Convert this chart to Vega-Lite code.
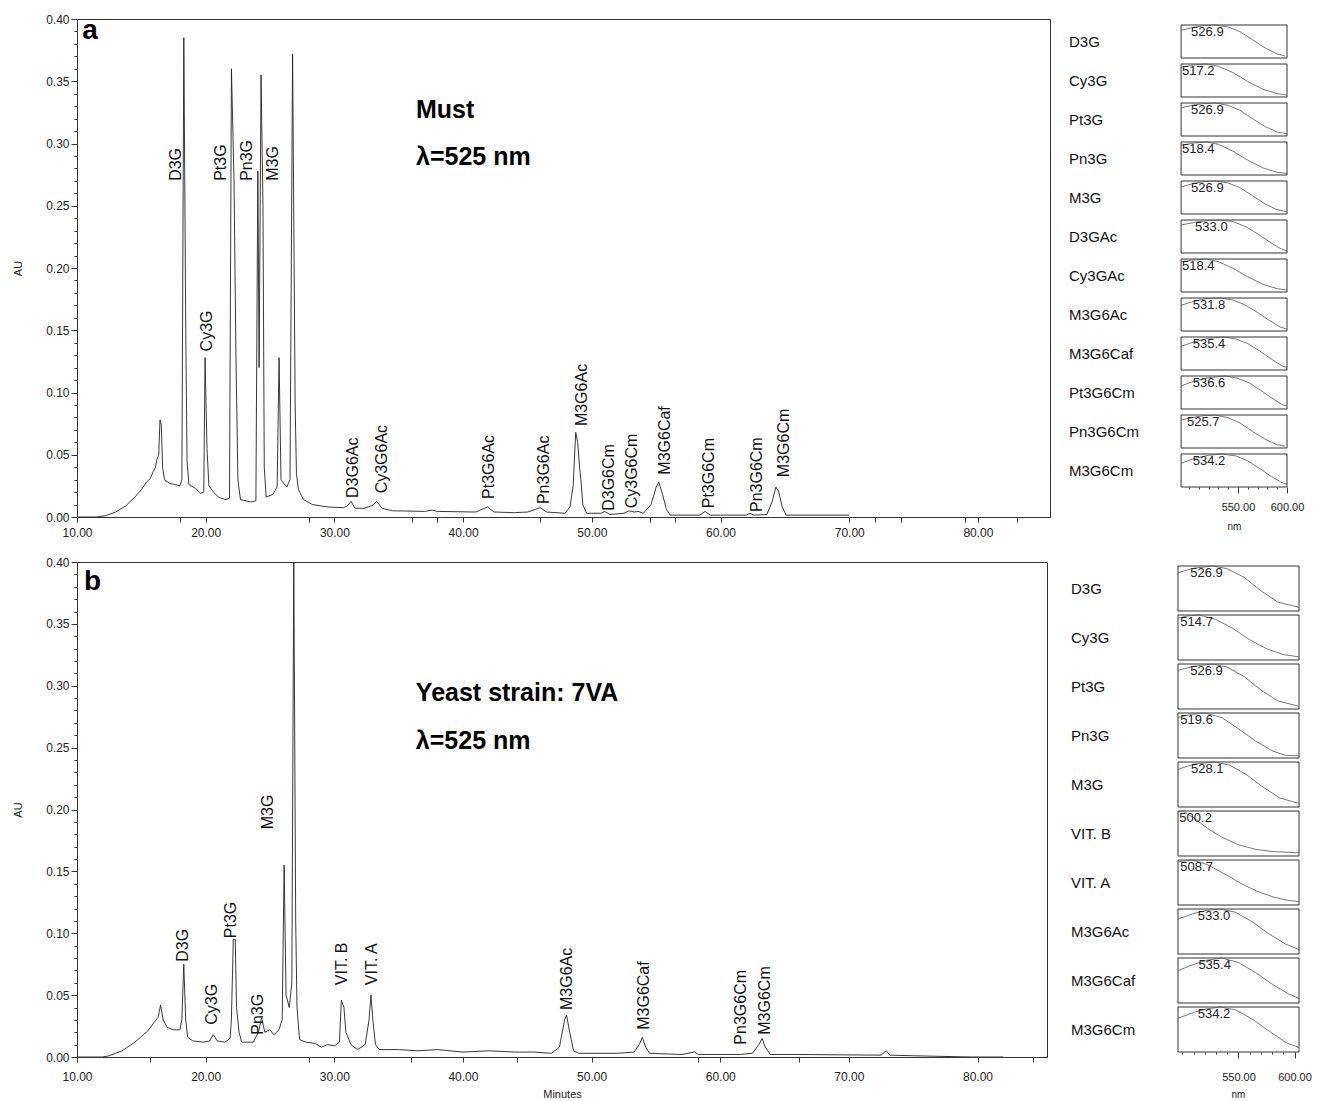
{
  "$schema": "https://vega.github.io/schema/vega-lite/v6.json",
  "padding": {"left": 12, "top": 12, "right": 0, "bottom": 0},
  "background": "white",
  "config": {
    "font": "Liberation Sans",
    "view": {"stroke": "#333", "strokeWidth": 1},
    "axis": {"labelFont": "Liberation Sans", "labelFontSize": 12, "labelColor": "#222", "tickColor": "#333", "domainColor": "#333", "grid": false, "titleFont": "Liberation Sans", "titleFontWeight": "normal", "titleFontSize": 11, "titleColor": "#222", "labelFlush": false, "labelOverlap": false},
    "text": {"font": "Liberation Sans", "color": "#111"}
  },
  "datasets": {
    "ca": [
      {"t":10.0,"au":0},{"t":11.5,"au":0},{"t":12.2,"au":0.001},{"t":13.0,"au":0.004},{"t":13.8,"au":0.009},{"t":14.5,"au":0.016},{"t":15.0,"au":0.022},{"t":15.4,"au":0.028},{"t":15.7,"au":0.031},{"t":15.9,"au":0.036},{"t":16.1,"au":0.04},{"t":16.2,"au":0.046},{"t":16.35,"au":0.05},{"t":16.45,"au":0.078},{"t":16.55,"au":0.074},{"t":16.65,"au":0.04},{"t":16.8,"au":0.03},{"t":17.2,"au":0.027},{"t":17.6,"au":0.026},{"t":18.0,"au":0.025},{"t":18.15,"au":0.03},{"t":18.3,"au":0.385},{"t":18.45,"au":0.15},{"t":18.55,"au":0.045},{"t":18.7,"au":0.026},{"t":19.2,"au":0.023},{"t":19.6,"au":0.019},{"t":19.85,"au":0.02},{"t":19.95,"au":0.128},{"t":20.1,"au":0.055},{"t":20.25,"au":0.025},{"t":20.6,"au":0.02},{"t":21.0,"au":0.016},{"t":21.5,"au":0.014},{"t":21.85,"au":0.015},{"t":22.0,"au":0.36},{"t":22.2,"au":0.27},{"t":22.35,"au":0.13},{"t":22.5,"au":0.03},{"t":22.7,"au":0.014},{"t":23.5,"au":0.012},{"t":23.9,"au":0.013},{"t":24.05,"au":0.278},{"t":24.15,"au":0.12},{"t":24.3,"au":0.355},{"t":24.45,"au":0.25},{"t":24.55,"au":0.04},{"t":24.7,"au":0.016},{"t":25.2,"au":0.018},{"t":25.55,"au":0.024},{"t":25.7,"au":0.128},{"t":25.85,"au":0.03},{"t":26.3,"au":0.024},{"t":26.55,"au":0.03},{"t":26.75,"au":0.372},{"t":26.95,"au":0.09},{"t":27.05,"au":0.035},{"t":27.2,"au":0.022},{"t":27.6,"au":0.014},{"t":28.3,"au":0.01},{"t":29.5,"au":0.008},{"t":30.7,"au":0.0075},{"t":31.0,"au":0.009},{"t":31.3,"au":0.0125},{"t":31.6,"au":0.007},{"t":32.3,"au":0.007},{"t":32.9,"au":0.009},{"t":33.3,"au":0.0125},{"t":33.7,"au":0.007},{"t":34.5,"au":0.005},{"t":37.0,"au":0.0045},{"t":37.6,"au":0.0055},{"t":38.0,"au":0.0045},{"t":41.0,"au":0.004},{"t":41.3,"au":0.0055},{"t":41.9,"au":0.008},{"t":42.4,"au":0.004},{"t":44.0,"au":0.0035},{"t":45.0,"au":0.004},{"t":45.6,"au":0.006},{"t":46.0,"au":0.0075},{"t":46.5,"au":0.004},{"t":47.9,"au":0.003},{"t":48.3,"au":0.008},{"t":48.55,"au":0.025},{"t":48.75,"au":0.068},{"t":48.9,"au":0.06},{"t":49.05,"au":0.04},{"t":49.15,"au":0.03},{"t":49.3,"au":0.01},{"t":49.6,"au":0.003},{"t":50.7,"au":0.003},{"t":51.0,"au":0.0045},{"t":51.4,"au":0.002},{"t":52.5,"au":0.003},{"t":52.9,"au":0.005},{"t":53.3,"au":0.004},{"t":53.6,"au":0.0045},{"t":54.0,"au":0.003},{"t":54.6,"au":0.01},{"t":55.0,"au":0.024},{"t":55.2,"au":0.028},{"t":55.5,"au":0.018},{"t":55.8,"au":0.006},{"t":56.1,"au":0.0015},{"t":58.4,"au":0.0015},{"t":58.8,"au":0.0045},{"t":59.2,"au":0.0015},{"t":62.0,"au":0.0015},{"t":62.3,"au":0.003},{"t":62.6,"au":0.0015},{"t":63.6,"au":0.002},{"t":64.0,"au":0.012},{"t":64.3,"au":0.024},{"t":64.5,"au":0.021},{"t":64.8,"au":0.008},{"t":65.1,"au":0.0015},{"t":70.0,"au":0.0015}
    ],
    "cb": [
      {"t":10.0,"au":0},{"t":12.0,"au":0},{"t":12.5,"au":0.001},{"t":13.5,"au":0.005},{"t":14.5,"au":0.012},{"t":15.5,"au":0.021},{"t":16.0,"au":0.028},{"t":16.3,"au":0.032},{"t":16.5,"au":0.042},{"t":16.7,"au":0.03},{"t":17.0,"au":0.024},{"t":17.5,"au":0.022},{"t":18.0,"au":0.022},{"t":18.15,"au":0.03},{"t":18.3,"au":0.075},{"t":18.45,"au":0.03},{"t":18.6,"au":0.016},{"t":19.0,"au":0.013},{"t":19.8,"au":0.012},{"t":20.3,"au":0.013},{"t":20.6,"au":0.018},{"t":20.9,"au":0.013},{"t":21.5,"au":0.012},{"t":21.9,"au":0.015},{"t":22.0,"au":0.03},{"t":22.15,"au":0.095},{"t":22.3,"au":0.095},{"t":22.4,"au":0.04},{"t":22.6,"au":0.02},{"t":22.8,"au":0.012},{"t":23.7,"au":0.012},{"t":24.1,"au":0.02},{"t":24.35,"au":0.032},{"t":24.6,"au":0.02},{"t":25.0,"au":0.022},{"t":25.3,"au":0.018},{"t":25.7,"au":0.022},{"t":25.95,"au":0.03},{"t":26.1,"au":0.155},{"t":26.25,"au":0.05},{"t":26.5,"au":0.04},{"t":26.7,"au":0.06},{"t":26.85,"au":0.4},{"t":27.0,"au":0.11},{"t":27.1,"au":0.04},{"t":27.3,"au":0.014},{"t":27.8,"au":0.012},{"t":28.5,"au":0.011},{"t":29.0,"au":0.008},{"t":29.5,"au":0.01},{"t":30.0,"au":0.009},{"t":30.4,"au":0.012},{"t":30.55,"au":0.046},{"t":30.75,"au":0.04},{"t":30.9,"au":0.02},{"t":31.3,"au":0.01},{"t":31.8,"au":0.006},{"t":32.4,"au":0.01},{"t":32.7,"au":0.03},{"t":32.85,"au":0.05},{"t":33.0,"au":0.03},{"t":33.2,"au":0.01},{"t":33.5,"au":0.006},{"t":35.0,"au":0.006},{"t":36.5,"au":0.005},{"t":38.0,"au":0.006},{"t":40.0,"au":0.004},{"t":42.0,"au":0.005},{"t":44.0,"au":0.004},{"t":45.5,"au":0.004},{"t":46.9,"au":0.003},{"t":47.5,"au":0.008},{"t":47.9,"au":0.03},{"t":48.05,"au":0.034},{"t":48.3,"au":0.02},{"t":48.6,"au":0.005},{"t":49.0,"au":0.003},{"t":52.0,"au":0.003},{"t":53.3,"au":0.004},{"t":53.7,"au":0.01},{"t":53.95,"au":0.016},{"t":54.2,"au":0.008},{"t":54.5,"au":0.003},{"t":57.0,"au":0.002},{"t":58.0,"au":0.004},{"t":58.3,"au":0.002},{"t":61.5,"au":0.002},{"t":62.5,"au":0.003},{"t":63.0,"au":0.01},{"t":63.25,"au":0.015},{"t":63.5,"au":0.008},{"t":63.9,"au":0.002},{"t":66.5,"au":0.002},{"t":72.5,"au":0.0015},{"t":72.9,"au":0.005},{"t":73.2,"au":0.0015},{"t":75.0,"au":0.001},{"t":79.5,"au":0},{"t":82.0,"au":0}
    ],
    "la": [
      {"label":"D3G","t":17.7,"au":0.27},{"label":"Cy3G","t":20.1,"au":0.133},{"label":"Pt3G","t":21.2,"au":0.27},{"label":"Pn3G","t":23.2,"au":0.27},{"label":"M3G","t":25.2,"au":0.27},
      {"label":"D3G6Ac","t":31.45,"au":0.0153},{"label":"Cy3G6Ac","t":33.7,"au":0.019},{"label":"Pt3G6Ac","t":42.0,"au":0.0145},{"label":"Pn3G6Ac","t":46.3,"au":0.0104},{"label":"M3G6Ac","t":49.2,"au":0.073},{"label":"D3G6Cm","t":51.3,"au":0.005},{"label":"Cy3G6Cm","t":53.1,"au":0.007},{"label":"M3G6Caf","t":55.7,"au":0.034},{"label":"Pt3G6Cm","t":59.1,"au":0.007},{"label":"Pn3G6Cm","t":62.8,"au":0.004},{"label":"M3G6Cm","t":64.9,"au":0.032}
    ],
    "lb": [
      {"label":"D3G","t":18.24,"au":0.077},{"label":"Cy3G","t":20.5,"au":0.026},{"label":"Pt3G","t":22.0,"au":0.096},{"label":"Pn3G","t":24.06,"au":0.018},{"label":"M3G","t":24.84,"au":0.184},{"label":"VIT. B","t":30.6,"au":0.058},{"label":"VIT. A","t":32.9,"au":0.058},{"label":"M3G6Ac","t":48.1,"au":0.038},{"label":"M3G6Caf","t":54.1,"au":0.022},{"label":"Pn3G6Cm","t":61.6,"au":0.01},{"label":"M3G6Cm","t":63.5,"au":0.018}
    ],
    "na": [
      {"kind":"panel","text":"a","t":10.4,"au":0.39},{"kind":"note","text":"Must","t":36.34,"au":0.327},{"kind":"note","text":"λ=525 nm","t":36.34,"au":0.289}
    ],
    "nb": [
      {"kind":"panel","text":"b","t":10.55,"au":0.384},{"kind":"note","text":"Yeast strain: 7VA","t":36.34,"au":0.294},{"kind":"note","text":"λ=525 nm","t":36.34,"au":0.255}
    ],
    "sa": [
      {"c":"D3G","p":526.9,"lx":502.2},{"c":"D3G","nm":492,"r":0.84},{"c":"D3G","nm":505,"r":0.93},{"c":"D3G","nm":515,"r":0.98},{"c":"D3G","nm":527,"r":1.0},{"c":"D3G","nm":540,"r":0.94},{"c":"D3G","nm":552,"r":0.8},{"c":"D3G","nm":565,"r":0.55},{"c":"D3G","nm":578,"r":0.3},{"c":"D3G","nm":590,"r":0.12},{"c":"D3G","nm":598,"r":0.06},
      {"c":"Cy3G","p":517.2,"lx":493.0},{"c":"Cy3G","nm":492,"r":0.9},{"c":"Cy3G","nm":505,"r":0.97},{"c":"Cy3G","nm":517,"r":1.0},{"c":"Cy3G","nm":530,"r":0.93},{"c":"Cy3G","nm":545,"r":0.74},{"c":"Cy3G","nm":560,"r":0.47},{"c":"Cy3G","nm":575,"r":0.24},{"c":"Cy3G","nm":590,"r":0.1},{"c":"Cy3G","nm":600,"r":0.06},
      {"c":"Pt3G","p":526.9,"lx":502.2},{"c":"Pt3G","nm":492,"r":0.85},{"c":"Pt3G","nm":505,"r":0.94},{"c":"Pt3G","nm":515,"r":0.98},{"c":"Pt3G","nm":527,"r":1.0},{"c":"Pt3G","nm":540,"r":0.93},{"c":"Pt3G","nm":552,"r":0.78},{"c":"Pt3G","nm":565,"r":0.52},{"c":"Pt3G","nm":578,"r":0.28},{"c":"Pt3G","nm":590,"r":0.12},{"c":"Pt3G","nm":600,"r":0.07},
      {"c":"Pn3G","p":518.4,"lx":493.0},{"c":"Pn3G","nm":492,"r":0.9},{"c":"Pn3G","nm":505,"r":0.97},{"c":"Pn3G","nm":518,"r":1.0},{"c":"Pn3G","nm":530,"r":0.93},{"c":"Pn3G","nm":545,"r":0.72},{"c":"Pn3G","nm":560,"r":0.45},{"c":"Pn3G","nm":575,"r":0.22},{"c":"Pn3G","nm":590,"r":0.08},{"c":"Pn3G","nm":600,"r":0.05},
      {"c":"M3G","p":526.9,"lx":502.2},{"c":"M3G","nm":492,"r":0.82},{"c":"M3G","nm":505,"r":0.93},{"c":"M3G","nm":515,"r":0.98},{"c":"M3G","nm":527,"r":1.0},{"c":"M3G","nm":540,"r":0.94},{"c":"M3G","nm":552,"r":0.8},{"c":"M3G","nm":565,"r":0.55},{"c":"M3G","nm":578,"r":0.3},{"c":"M3G","nm":590,"r":0.13},{"c":"M3G","nm":600,"r":0.07},
      {"c":"D3GAc","p":533.0,"lx":506.3},{"c":"D3GAc","nm":492,"r":0.85},{"c":"D3GAc","nm":510,"r":0.95},{"c":"D3GAc","nm":520,"r":0.98},{"c":"D3GAc","nm":533,"r":1.0},{"c":"D3GAc","nm":545,"r":0.95},{"c":"D3GAc","nm":558,"r":0.8},{"c":"D3GAc","nm":570,"r":0.58},{"c":"D3GAc","nm":582,"r":0.34},{"c":"D3GAc","nm":593,"r":0.14},{"c":"D3GAc","nm":600,"r":0.06},
      {"c":"Cy3GAc","p":518.4,"lx":493.0},{"c":"Cy3GAc","nm":492,"r":0.92},{"c":"Cy3GAc","nm":505,"r":0.97},{"c":"Cy3GAc","nm":518,"r":1.0},{"c":"Cy3GAc","nm":530,"r":0.92},{"c":"Cy3GAc","nm":545,"r":0.72},{"c":"Cy3GAc","nm":560,"r":0.46},{"c":"Cy3GAc","nm":575,"r":0.24},{"c":"Cy3GAc","nm":590,"r":0.1},{"c":"Cy3GAc","nm":600,"r":0.06},
      {"c":"M3G6Ac","p":531.8,"lx":503.9},{"c":"M3G6Ac","nm":492,"r":0.78},{"c":"M3G6Ac","nm":505,"r":0.9},{"c":"M3G6Ac","nm":518,"r":0.98},{"c":"M3G6Ac","nm":532,"r":1.0},{"c":"M3G6Ac","nm":545,"r":0.94},{"c":"M3G6Ac","nm":558,"r":0.78},{"c":"M3G6Ac","nm":570,"r":0.56},{"c":"M3G6Ac","nm":582,"r":0.32},{"c":"M3G6Ac","nm":593,"r":0.12},{"c":"M3G6Ac","nm":600,"r":0.06},
      {"c":"M3G6Caf","p":535.4,"lx":503.9},{"c":"M3G6Caf","nm":492,"r":0.72},{"c":"M3G6Caf","nm":505,"r":0.85},{"c":"M3G6Caf","nm":520,"r":0.96},{"c":"M3G6Caf","nm":535,"r":1.0},{"c":"M3G6Caf","nm":548,"r":0.94},{"c":"M3G6Caf","nm":560,"r":0.8},{"c":"M3G6Caf","nm":572,"r":0.58},{"c":"M3G6Caf","nm":584,"r":0.33},{"c":"M3G6Caf","nm":595,"r":0.12},{"c":"M3G6Caf","nm":600,"r":0.08},
      {"c":"Pt3G6Cm","p":536.6,"lx":503.9},{"c":"Pt3G6Cm","nm":492,"r":0.7},{"c":"Pt3G6Cm","nm":505,"r":0.84},{"c":"Pt3G6Cm","nm":520,"r":0.95},{"c":"Pt3G6Cm","nm":537,"r":1.0},{"c":"Pt3G6Cm","nm":550,"r":0.93},{"c":"Pt3G6Cm","nm":562,"r":0.78},{"c":"Pt3G6Cm","nm":574,"r":0.55},{"c":"Pt3G6Cm","nm":586,"r":0.3},{"c":"Pt3G6Cm","nm":596,"r":0.12},{"c":"Pt3G6Cm","nm":600,"r":0.09},
      {"c":"Pn3G6Cm","p":525.7,"lx":498.1},{"c":"Pn3G6Cm","nm":492,"r":0.85},{"c":"Pn3G6Cm","nm":505,"r":0.93},{"c":"Pn3G6Cm","nm":515,"r":0.98},{"c":"Pn3G6Cm","nm":526,"r":1.0},{"c":"Pn3G6Cm","nm":540,"r":0.92},{"c":"Pn3G6Cm","nm":552,"r":0.76},{"c":"Pn3G6Cm","nm":565,"r":0.5},{"c":"Pn3G6Cm","nm":578,"r":0.26},{"c":"Pn3G6Cm","nm":590,"r":0.1},{"c":"Pn3G6Cm","nm":598,"r":0.06},
      {"c":"M3G6Cm","p":534.2,"lx":503.9},{"c":"M3G6Cm","nm":492,"r":0.72},{"c":"M3G6Cm","nm":505,"r":0.86},{"c":"M3G6Cm","nm":520,"r":0.96},{"c":"M3G6Cm","nm":534,"r":1.0},{"c":"M3G6Cm","nm":548,"r":0.94},{"c":"M3G6Cm","nm":560,"r":0.79},{"c":"M3G6Cm","nm":572,"r":0.56},{"c":"M3G6Cm","nm":584,"r":0.32},{"c":"M3G6Cm","nm":595,"r":0.13},{"c":"M3G6Cm","nm":600,"r":0.08}
    ],
    "sb": [
      {"c":"D3G","p":526.9,"lx":506.9},{"c":"D3G","nm":496,"r":0.85},{"c":"D3G","nm":510,"r":0.95},{"c":"D3G","nm":527,"r":1.0},{"c":"D3G","nm":540,"r":0.94},{"c":"D3G","nm":555,"r":0.75},{"c":"D3G","nm":570,"r":0.45},{"c":"D3G","nm":585,"r":0.2},{"c":"D3G","nm":604,"r":0.08},
      {"c":"Cy3G","p":514.7,"lx":498.1},{"c":"Cy3G","nm":496,"r":0.93},{"c":"Cy3G","nm":505,"r":0.98},{"c":"Cy3G","nm":515,"r":1.0},{"c":"Cy3G","nm":530,"r":0.9},{"c":"Cy3G","nm":545,"r":0.7},{"c":"Cy3G","nm":560,"r":0.45},{"c":"Cy3G","nm":575,"r":0.25},{"c":"Cy3G","nm":590,"r":0.12},{"c":"Cy3G","nm":604,"r":0.07},
      {"c":"Pt3G","p":526.9,"lx":506.9},{"c":"Pt3G","nm":496,"r":0.86},{"c":"Pt3G","nm":510,"r":0.95},{"c":"Pt3G","nm":527,"r":1.0},{"c":"Pt3G","nm":540,"r":0.93},{"c":"Pt3G","nm":555,"r":0.72},{"c":"Pt3G","nm":570,"r":0.42},{"c":"Pt3G","nm":585,"r":0.18},{"c":"Pt3G","nm":604,"r":0.06},
      {"c":"Pn3G","p":519.6,"lx":498.1},{"c":"Pn3G","nm":496,"r":0.9},{"c":"Pn3G","nm":508,"r":0.97},{"c":"Pn3G","nm":520,"r":1.0},{"c":"Pn3G","nm":535,"r":0.9},{"c":"Pn3G","nm":550,"r":0.65},{"c":"Pn3G","nm":565,"r":0.38},{"c":"Pn3G","nm":580,"r":0.16},{"c":"Pn3G","nm":592,"r":0.06},{"c":"Pn3G","nm":604,"r":0.05},
      {"c":"M3G","p":528.1,"lx":507.6},{"c":"M3G","nm":496,"r":0.84},{"c":"M3G","nm":510,"r":0.95},{"c":"M3G","nm":528,"r":1.0},{"c":"M3G","nm":542,"r":0.93},{"c":"M3G","nm":557,"r":0.72},{"c":"M3G","nm":572,"r":0.44},{"c":"M3G","nm":587,"r":0.2},{"c":"M3G","nm":604,"r":0.08},
      {"c":"VIT. B","p":500.2,"lx":497.2},{"c":"VIT. B","nm":496,"r":0.98},{"c":"VIT. B","nm":500,"r":1.0},{"c":"VIT. B","nm":510,"r":0.85},{"c":"VIT. B","nm":522,"r":0.62},{"c":"VIT. B","nm":535,"r":0.42},{"c":"VIT. B","nm":550,"r":0.25},{"c":"VIT. B","nm":565,"r":0.15},{"c":"VIT. B","nm":580,"r":0.1},{"c":"VIT. B","nm":604,"r":0.07},
      {"c":"VIT. A","p":508.7,"lx":498.1},{"c":"VIT. A","nm":496,"r":0.96},{"c":"VIT. A","nm":509,"r":1.0},{"c":"VIT. A","nm":522,"r":0.9},{"c":"VIT. A","nm":537,"r":0.7},{"c":"VIT. A","nm":552,"r":0.48},{"c":"VIT. A","nm":567,"r":0.3},{"c":"VIT. A","nm":582,"r":0.17},{"c":"VIT. A","nm":595,"r":0.1},{"c":"VIT. A","nm":604,"r":0.08},
      {"c":"M3G6Ac","p":533.0,"lx":513.6},{"c":"M3G6Ac","nm":496,"r":0.78},{"c":"M3G6Ac","nm":510,"r":0.9},{"c":"M3G6Ac","nm":522,"r":0.97},{"c":"M3G6Ac","nm":533,"r":1.0},{"c":"M3G6Ac","nm":547,"r":0.93},{"c":"M3G6Ac","nm":562,"r":0.72},{"c":"M3G6Ac","nm":577,"r":0.45},{"c":"M3G6Ac","nm":592,"r":0.22},{"c":"M3G6Ac","nm":604,"r":0.1},
      {"c":"M3G6Caf","p":535.4,"lx":514.2},{"c":"M3G6Caf","nm":496,"r":0.72},{"c":"M3G6Caf","nm":510,"r":0.86},{"c":"M3G6Caf","nm":522,"r":0.95},{"c":"M3G6Caf","nm":535,"r":1.0},{"c":"M3G6Caf","nm":550,"r":0.9},{"c":"M3G6Caf","nm":565,"r":0.68},{"c":"M3G6Caf","nm":580,"r":0.42},{"c":"M3G6Caf","nm":595,"r":0.2},{"c":"M3G6Caf","nm":604,"r":0.1},
      {"c":"M3G6Cm","p":534.2,"lx":513.6},{"c":"M3G6Cm","nm":496,"r":0.75},{"c":"M3G6Cm","nm":510,"r":0.88},{"c":"M3G6Cm","nm":522,"r":0.96},{"c":"M3G6Cm","nm":534,"r":1.0},{"c":"M3G6Cm","nm":548,"r":0.93},{"c":"M3G6Cm","nm":563,"r":0.72},{"c":"M3G6Cm","nm":578,"r":0.45},{"c":"M3G6Cm","nm":593,"r":0.2},{"c":"M3G6Cm","nm":604,"r":0.1}
    ]
  },
  "spacing": 16,
  "vconcat": [
    {
      "spacing": 18,
      "hconcat": [
        {
          "width": 973, "height": 498,
          "layer": [
            {
              "data": {"name": "ca"},
              "mark": {"type": "line", "color": "#222", "strokeWidth": 0.9, "clip": true},
              "encoding": {
                "x": {"field": "t", "type": "quantitative", "scale": {"domain": [10, 85.6], "nice": false, "zero": false},
                      "axis": {"title": null, "values": [10,18,20,28,30,36,38,40,46,50,54.5,56.5,60,70,72,74,79,80,83], "tickCount": 100, "labelExpr": "datum.value % 10 === 0 ? format(datum.value, '.2f') : ''", "tickSize": 5, "labelPadding": 5, "labelOverlap": false}},
                "y": {"field": "au", "type": "quantitative", "scale": {"domain": [0, 0.4], "nice": false},
                      "axis": {"title": "AU", "titlePadding": 22, "values": [0,0.01,0.02,0.03,0.04,0.05,0.06,0.07,0.08,0.09,0.1,0.11,0.12,0.13,0.14,0.15,0.16,0.17,0.18,0.19,0.2,0.21,0.22,0.23,0.24,0.25,0.26,0.27,0.28,0.29,0.3,0.31,0.32,0.33,0.34,0.35,0.36,0.37,0.38,0.39,0.4], "tickCount": 100, "labelExpr": "round(datum.value*100) % 5 === 0 ? format(datum.value, '.2f') : ''", "tickSize": {"condition": {"test": "round(datum.value*100) % 5 === 0", "value": 6}, "value": 3}, "labelPadding": 2, "labelOverlap": false}}
              }
            },
            {
              "data": {"name": "la"},
              "mark": {"type": "text", "angle": 270, "align": "left", "baseline": "middle", "fontSize": 16},
              "encoding": {"x": {"field": "t", "type": "quantitative"}, "y": {"field": "au", "type": "quantitative"}, "text": {"field": "label"}}
            },
            {
              "data": {"name": "na"},
              "transform": [{"filter": "datum.kind === 'panel'"}],
              "mark": {"type": "text", "align": "left", "baseline": "middle", "fontSize": 28, "fontWeight": "bold", "color": "#000"},
              "encoding": {"x": {"field": "t", "type": "quantitative"}, "y": {"field": "au", "type": "quantitative"}, "text": {"field": "text"}}
            },
            {
              "data": {"name": "na"},
              "transform": [{"filter": "datum.kind === 'note'"}],
              "mark": {"type": "text", "align": "left", "baseline": "middle", "fontSize": 25, "fontWeight": "bold", "color": "#000"},
              "encoding": {"x": {"field": "t", "type": "quantitative"}, "y": {"field": "au", "type": "quantitative"}, "text": {"field": "text"}}
            }
          ]
        },
        {
          "data": {"name": "sa"},
          "facet": {"row": {"field": "c", "type": "nominal", "sort": ["D3G","Cy3G","Pt3G","Pn3G","M3G","D3GAc","Cy3GAc","M3G6Ac","M3G6Caf","Pt3G6Cm","Pn3G6Cm","M3G6Cm"], "header": null}},
          "spacing": 0,
          "bounds": "flush",
          "spec": {
            "width": 218, "height": 39,
            "view": {"stroke": null},
            "layer": [
              {
                "transform": [{"filter": "datum.p != null"}],
                "mark": {"type": "rect", "fill": "transparent", "stroke": "#333", "strokeWidth": 1},
                "encoding": {
                  "x": {"datum": 492, "type": "quantitative", "scale": {"domain": [377.7, 600], "nice": false, "zero": false},
                        "axis": {"title": "nm", "titleFontSize": 10, "titlePadding": 9, "titleX": 165, "values": [500,510,520,530,540,550,560,570,580,590,600], "tickCount": 100, "labelExpr": "datum.value == 550 || datum.value == 600 ? format(datum.value, '.2f') : ''", "tickSize": {"condition": {"test": "datum.value == 550 || datum.value == 600", "value": 6}, "value": 2}, "domain": false, "labelFontSize": 11, "labelPadding": 8, "labelOverlap": false}},
                  "x2": {"datum": 600},
                  "y": {"datum": 0, "type": "quantitative", "scale": {"domain": [0, 1.182], "nice": false}, "axis": null},
                  "y2": {"datum": 1}
                }
              },
              {
                "mark": {"type": "line", "color": "#555", "strokeWidth": 0.8},
                "encoding": {
                  "x": {"field": "nm", "type": "quantitative"},
                  "y": {"field": "r", "type": "quantitative", "axis": null}
                }
              },
              {
                "transform": [{"filter": "datum.p != null"}],
                "mark": {"type": "text", "fontSize": 13, "align": "left", "baseline": "top", "dy": 1, "color": "#222"},
                "encoding": {
                  "x": {"field": "lx", "type": "quantitative"},
                  "y": {"datum": 1.0, "type": "quantitative"},
                  "text": {"field": "p", "type": "quantitative", "format": ".1f"}
                }
              },
              {
                "transform": [{"filter": "datum.p != null"}],
                "mark": {"type": "text", "fontSize": 15, "align": "left", "baseline": "middle", "color": "#111"},
                "encoding": {
                  "x": {"datum": 377.7, "type": "quantitative"},
                  "y": {"datum": 0.5, "type": "quantitative"},
                  "text": {"field": "c"}
                }
              }
            ]
          }
        }
      ]
    },
    {
      "spacing": 23,
      "hconcat": [
        {
          "width": 970, "height": 495,
          "layer": [
            {
              "data": {"name": "cb"},
              "mark": {"type": "line", "color": "#222", "strokeWidth": 0.9, "clip": true},
              "encoding": {
                "x": {"field": "t", "type": "quantitative", "scale": {"domain": [10, 85.4], "nice": false, "zero": false},
                      "axis": {"title": "Minutes", "titlePadding": 6, "values": [10,15.7,20,28,30,36,40,44.2,50,58.3,60,66.1,70,80,84.3], "tickCount": 100, "labelExpr": "datum.value % 10 === 0 ? format(datum.value, '.2f') : ''", "tickSize": 5, "labelPadding": 9, "labelOverlap": false}},
                "y": {"field": "au", "type": "quantitative", "scale": {"domain": [0, 0.4], "nice": false},
                      "axis": {"title": "AU", "titlePadding": 22, "values": [0,0.01,0.02,0.03,0.04,0.05,0.06,0.07,0.08,0.09,0.1,0.11,0.12,0.13,0.14,0.15,0.16,0.17,0.18,0.19,0.2,0.21,0.22,0.23,0.24,0.25,0.26,0.27,0.28,0.29,0.3,0.31,0.32,0.33,0.34,0.35,0.36,0.37,0.38,0.39,0.4], "tickCount": 100, "labelExpr": "round(datum.value*100) % 5 === 0 ? format(datum.value, '.2f') : ''", "tickSize": {"condition": {"test": "round(datum.value*100) % 5 === 0", "value": 6}, "value": 3}, "labelPadding": 2, "labelOverlap": false}}
              }
            },
            {
              "data": {"name": "lb"},
              "mark": {"type": "text", "angle": 270, "align": "left", "baseline": "middle", "fontSize": 16},
              "encoding": {"x": {"field": "t", "type": "quantitative"}, "y": {"field": "au", "type": "quantitative"}, "text": {"field": "label"}}
            },
            {
              "data": {"name": "nb"},
              "transform": [{"filter": "datum.kind === 'panel'"}],
              "mark": {"type": "text", "align": "left", "baseline": "middle", "fontSize": 28, "fontWeight": "bold", "color": "#000"},
              "encoding": {"x": {"field": "t", "type": "quantitative"}, "y": {"field": "au", "type": "quantitative"}, "text": {"field": "text"}}
            },
            {
              "data": {"name": "nb"},
              "transform": [{"filter": "datum.kind === 'note'"}],
              "mark": {"type": "text", "align": "left", "baseline": "middle", "fontSize": 25, "fontWeight": "bold", "color": "#000"},
              "encoding": {"x": {"field": "t", "type": "quantitative"}, "y": {"field": "au", "type": "quantitative"}, "text": {"field": "text"}}
            }
          ]
        },
        {
          "data": {"name": "sb"},
          "facet": {"row": {"field": "c", "type": "nominal", "sort": ["D3G","Cy3G","Pt3G","Pn3G","M3G","VIT. B","VIT. A","M3G6Ac","M3G6Caf","M3G6Cm"], "header": null}},
          "spacing": 0,
          "bounds": "flush",
          "spec": {
            "width": 228, "height": 49,
            "view": {"stroke": null},
            "layer": [
              {
                "transform": [{"filter": "datum.p != null"}],
                "mark": {"type": "rect", "fill": "transparent", "stroke": "#333", "strokeWidth": 1},
                "encoding": {
                  "x": {"datum": 496, "type": "quantitative", "scale": {"domain": [400.5, 604], "nice": false, "zero": false},
                        "axis": {"title": "nm", "titleFontSize": 10, "titlePadding": 7, "titleX": 167, "values": [500,510,520,530,540,550,560,570,580,590,600], "tickCount": 100, "labelExpr": "datum.value == 550 || datum.value == 600 ? format(datum.value, '.2f') : ''", "tickSize": {"condition": {"test": "datum.value == 550 || datum.value == 600", "value": 6}, "value": 2}, "domain": false, "labelFontSize": 11, "labelPadding": 13, "labelOverlap": false}},
                  "x2": {"datum": 604},
                  "y": {"datum": 0, "type": "quantitative", "scale": {"domain": [0, 1.089], "nice": false}, "axis": null},
                  "y2": {"datum": 1}
                }
              },
              {
                "mark": {"type": "line", "color": "#555", "strokeWidth": 0.8},
                "encoding": {
                  "x": {"field": "nm", "type": "quantitative"},
                  "y": {"field": "r", "type": "quantitative", "axis": null}
                }
              },
              {
                "transform": [{"filter": "datum.p != null"}],
                "mark": {"type": "text", "fontSize": 13, "align": "left", "baseline": "top", "dy": 1, "color": "#222"},
                "encoding": {
                  "x": {"field": "lx", "type": "quantitative"},
                  "y": {"datum": 1.0, "type": "quantitative"},
                  "text": {"field": "p", "type": "quantitative", "format": ".1f"}
                }
              },
              {
                "transform": [{"filter": "datum.p != null"}],
                "mark": {"type": "text", "fontSize": 15, "align": "left", "baseline": "middle", "color": "#111"},
                "encoding": {
                  "x": {"datum": 400.5, "type": "quantitative"},
                  "y": {"datum": 0.5, "type": "quantitative"},
                  "text": {"field": "c"}
                }
              }
            ]
          }
        }
      ]
    }
  ]
}
